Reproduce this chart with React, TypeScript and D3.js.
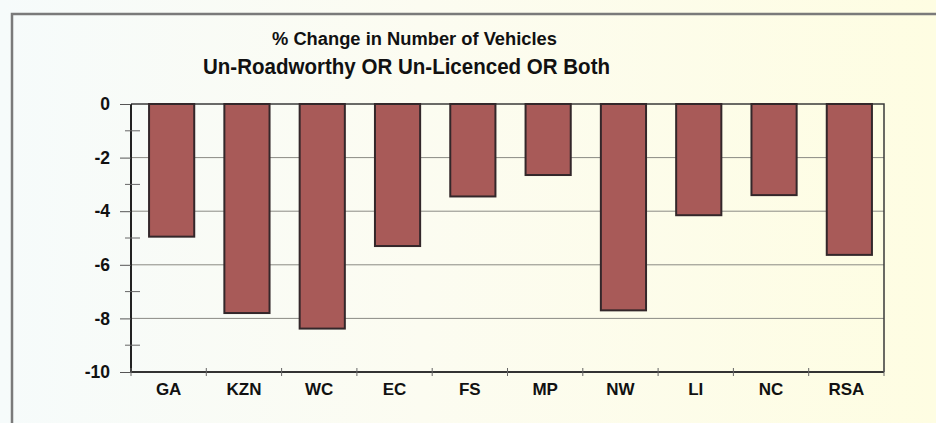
import React, { useEffect, useRef } from "react";
import * as d3 from "d3";

const regions = ["GA", "KZN", "WC", "EC", "FS", "MP", "NW", "LI", "NC", "RSA"];
const changes = [-4.95, -7.8, -8.38, -5.3, -3.45, -2.65, -7.7, -4.15, -3.4, -5.63];
const majorTicks = [0, -2, -4, -6, -8, -10];
const minorTicks = [-1, -3, -5, -7, -9];
const titleLines = ["% Change in Number of Vehicles", "Un-Roadworthy OR Un-Licenced OR Both"];

export default function App() {
  const ref = useRef<SVGSVGElement | null>(null);

  useEffect(() => {
    if (!ref.current) return;
    const width = 936;
    const height = 423;
    const svg = d3.select(ref.current);
    svg.selectAll("*").remove();

    const margin = { top: 104, right: 52, bottom: 51, left: 131 };
    const w = width - margin.left - margin.right;
    const h = height - margin.top - margin.bottom;

    // background gradient, white-ish on the left to pale yellow on the right
    const defs = svg.append("defs");
    const grad = defs.append("linearGradient").attr("id", "bg").attr("x1", 0).attr("x2", 1).attr("y1", 0).attr("y2", 0);
    grad.append("stop").attr("offset", "0%").attr("stop-color", "#f6fbfb");
    grad.append("stop").attr("offset", "45%").attr("stop-color", "#fcfcf1");
    grad.append("stop").attr("offset", "100%").attr("stop-color", "#fefde2");
    svg.append("rect").attr("width", width).attr("height", height).attr("fill", "url(#bg)");

    // outer frame
    svg.append("path")
      .attr("d", `M12,${height} L12,14 L${width},14`)
      .attr("fill", "none")
      .attr("stroke", "#7a7a7a")
      .attr("stroke-width", 2.5);

    const font = "'Liberation Sans', Arial, sans-serif";
    svg.append("text")
      .attr("x", 272).attr("y", 45)
      .attr("textLength", 285).attr("lengthAdjust", "spacingAndGlyphs")
      .style("font-family", font).style("font-weight", "bold").style("font-size", "18px")
      .attr("fill", "#111")
      .text(titleLines[0]);
    svg.append("text")
      .attr("x", 203).attr("y", 74)
      .attr("textLength", 407).attr("lengthAdjust", "spacingAndGlyphs")
      .style("font-family", font).style("font-weight", "bold").style("font-size", "22px")
      .attr("fill", "#111")
      .text(titleLines[1]);

    const x = d3.scaleBand().domain(regions).range([0, w]).paddingInner(0.4).paddingOuter(0.2);
    const y = d3.scaleLinear().domain([-10, 0]).range([h, 0]);

    const g = svg.append("g").attr("transform", `translate(${margin.left},${margin.top})`);

    // gridlines
    g.selectAll(".grid").data(majorTicks.filter((t) => t !== 0 && t !== -10)).enter().append("line")
      .attr("x1", 0).attr("x2", w)
      .attr("y1", (d) => y(d)).attr("y2", (d) => y(d))
      .attr("stroke", "#8a8a84").attr("stroke-width", 1);

    // plot area border: top and right
    g.append("path")
      .attr("d", `M0,${y(0)} L${w},${y(0)} L${w},${y(-10)}`)
      .attr("fill", "none").attr("stroke", "#3a3a3a").attr("stroke-width", 1.5);

    // bars (scan shows them sitting a touch right of the band centre)
    const shift = 3;
    g.selectAll(".bar").data(regions).enter().append("rect")
      .attr("x", (d) => x(d)! + shift)
      .attr("y", y(0))
      .attr("width", x.bandwidth())
      .attr("height", (d, i) => y(changes[i]) - y(0))
      .attr("fill", "#a85a58")
      .attr("stroke", "#33272a")
      .attr("stroke-width", 2);

    // y axis
    const yAxis = g.append("g").call(
      d3.axisLeft(y).tickValues(majorTicks).tickSize(11).tickPadding(10).tickFormat((d) => String(d))
    );
    yAxis.select(".domain").attr("stroke", "#222").attr("stroke-width", 2).attr("d", `M0,0 L0,${h}`);
    yAxis.selectAll(".tick line").attr("stroke", "#555");
    yAxis.selectAll("text")
      .attr("x", -21)
      .style("font-family", font)
      .style("font-weight", "bold").style("font-size", "17.5px").attr("fill", "#111");

    g.selectAll(".minor").data(minorTicks).enter().append("line")
      .attr("x1", -6).attr("x2", 9)
      .attr("y1", (d) => y(d)).attr("y2", (d) => y(d))
      .attr("stroke", "#666");

    // x axis at bottom with ticks between categories
    g.append("line")
      .attr("x1", 0).attr("x2", w).attr("y1", h).attr("y2", h)
      .attr("stroke", "#333").attr("stroke-width", 2);
    const step = x.step();
    const bounds = d3.range(regions.length + 1).map((i) => i * step);
    g.selectAll(".xtick").data(bounds).enter().append("line")
      .attr("x1", (d) => d).attr("x2", (d) => d)
      .attr("y1", h - 4).attr("y2", h + 4)
      .attr("stroke", "#666");
    g.selectAll(".xlabel").data(regions).enter().append("text")
      .attr("x", (d) => x(d)! + x.bandwidth() / 2)
      .attr("y", h + 23)
      .attr("text-anchor", "middle")
      .style("font-family", font)
      .style("font-weight", "bold").style("font-size", "17px").attr("fill", "#111")
      .text((d) => d);
  }, []);

  return (
    <svg ref={ref} width={936} height={423} style={{ position: "absolute", left: 0, top: 0, display: "block" }} />
  );
}
